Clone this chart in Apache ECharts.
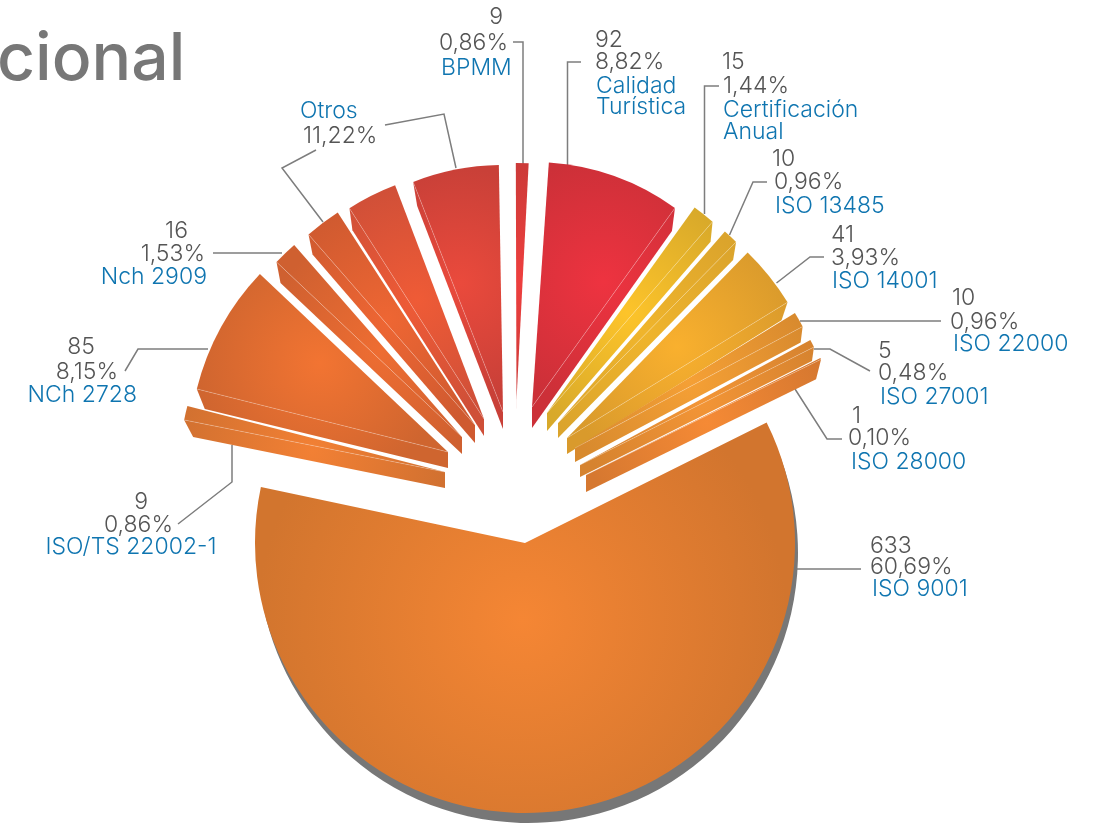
<!DOCTYPE html>
<html>
<head>
    <meta charset="UTF-8">
    <title>Certificaciones</title>
    <style type="text/css">
        html, body {
            margin: 0;
            padding: 0;
            background: #fff;
        }

        #mychart {
            width: 1097px;
            height: 825px;
        }
    </style>
    <script type="text/javascript" src="https://cdn.jsdelivr.net/npm/echarts@6/dist/echarts.min.js"></script>
</head>
<body>
<div id="mychart"></div>
<script type="text/javascript">
    // slices, clockwise starting at ISO 9001. "Otros" is drawn as three wedges
    var sliceNames = ['ISO 9001', 'ISO/TS 22002-1', 'NCh 2728', 'Nch 2909', 'Otros', 'Otros', 'Otros', 'BPMM',
        'Calidad Turística', 'Certificación Anual', 'ISO 13485', 'ISO 14001', 'ISO 22000', 'ISO 27001', 'ISO 28000'];
    var sliceValues = [633, 9, 85, 16, 24, 34, 59, 9, 92, 15, 10, 41, 10, 5, 1];

    // printed labels
    var labelCounts = ['633', '9', '85', '16', '', '9', '92', '15', '10', '41', '10', '5', '1'];
    var labelPercents = ['60,69%', '0,86%', '8,15%', '1,53%', '11,22%', '0,86%', '8,82%', '1,44%', '0,96%', '3,93%', '0,96%', '0,48%', '0,10%'];
    var labelNames = ['ISO 9001', 'ISO/TS 22002-1', 'NCh 2728', 'Nch 2909', 'Otros', 'BPMM',
        'Calidad\nTurística', 'Certificación\nAnual', 'ISO 13485', 'ISO 14001', 'ISO 22000', 'ISO 27001', 'ISO 28000'];
    var titleText = 'cional';

    // layout of each wedge: apex x, apex y, radius, apex drop, corner drop x, corner drop y, angle nudge
    var wedgeLayout = [
        [525, 543, 270, 0, 0, 0, 0.5],
        [445, 472, 266, 16, 9, 17, -0.2],
        [448, 452, 259, 16, 8, 20, -0.5],
        [462, 437, 255, 17, 4, 21, -0.6],
        [475, 425, 253, 18, 4, 20, -0.6],
        [484, 419, 250, 17, 3, 22, -0.3],
        [503, 412, 247, 17, 4, 24, -0.8],
        [516.5, 400, 237, 17, 0, 0, 0],
        [532, 407, 245, 21, -3, 23, 1],
        [547, 413, 253, 18, -2, 20, 1],
        [558, 423, 254, 15, -3, 18, 1.2],
        [567, 438, 259, 16, -6, 18, 0.9],
        [575, 448, 258, 14, -2, 16, 1],
        [580, 465, 262, 12, -2, 14, 0.6],
        [586, 475, 262, 17, -5, 20, 0.8]
    ];
    // gradient of each wedge: centre x, centre y, radius, inner colour, outer colour
    var wedgeShade = [
        [522, 620, 265, '#f58634', '#d2752e'],
        [312, 450, 140, '#f28034', '#d07030'],
        [320, 363, 125, '#f27432', '#cf652f'],
        [380, 350, 120, '#ee6d32', '#cf6030'],
        [387, 320, 120, '#ee6633', '#cf5a30'],
        [417, 300, 120, '#ef5b36', '#cf4f38'],
        [460, 283, 115, '#ea4a3c', '#c94038'],
        [523, 280, 115, '#ee3f3e', '#cc3a38'],
        [603, 282, 125, '#ee3340', '#cc3038'],
        [627, 313, 125, '#fdc42a', '#d8a92a'],
        [640, 330, 125, '#f0b52c', '#dba42c'],
        [677, 347, 125, '#f9b02e', '#d99a2c'],
        [690, 380, 125, '#f5a035', '#d88a2e'],
        [700, 400, 125, '#f39536', '#d6832f'],
        [707, 423, 125, '#f58a35', '#d67830']
    ];
    // text anchors, one [x, y, align] per printed line: count, percent, name, (second name line)
    var labelAnchors = [
        [[870, 546, 'left'], [870, 567, 'left'], [872, 589, 'left']],
        [[148, 502, 'right'], [173, 525, 'right'], [131, 547, 'center']],
        [[95, 347, 'right'], [118, 372, 'right'], [137, 395, 'right']],
        [[188, 231, 'right'], [205, 254, 'right'], [207, 277, 'right']],
        [null, [303, 136, 'left'], [300, 111, 'left']],
        [[503, 17, 'right'], [508, 43, 'right'], [441, 68, 'left']],
        [[595, 40, 'left'], [595, 62, 'left'], [596, 86, 'left'], [596, 107, 'left']],
        [[722, 62, 'left'], [723, 86, 'left'], [723, 110, 'left'], [723, 132, 'left']],
        [[772, 159, 'left'], [774, 182, 'left'], [775, 206, 'left']],
        [[831, 235, 'left'], [831, 258, 'left'], [832, 281, 'left']],
        [[952, 298, 'left'], [950, 322, 'left'], [953, 344, 'left']],
        [[878, 351, 'left'], [878, 373, 'left'], [880, 397, 'left']],
        [[852, 416, 'left'], [848, 438, 'left'], [851, 462, 'left']]
    ];
    var leaderLines = [
        [[797, 569], [861, 569]],
        [[232, 445], [232, 482], [178, 524]],
        [[208, 349], [138, 349], [125, 371]],
        [[213, 253], [282, 253]],
        [[385, 125], [444, 114], [456, 168]],
        [[316, 150], [282, 168], [323, 222]],
        [[513, 42], [523, 42], [523, 164]],
        [[581, 62], [567.5, 62], [567.5, 167]],
        [[719, 86], [704.5, 86], [704.5, 214]],
        [[767, 182], [753, 182], [729.5, 235]],
        [[824, 257], [810, 257], [776.5, 283]],
        [[800, 321], [941, 321]],
        [[814, 349], [830, 349], [870, 371]],
        [[795, 389], [827, 439], [842, 439]]
    ];

    var firstAngle = 63; // clockwise from north, where ISO 9001 starts
    var total = 0;
    sliceValues.forEach(function (v) { total += v; });

    // start and end angle of each wedge, clockwise from north
    var wedgeAngles = [];
    var cursor = firstAngle;
    sliceValues.forEach(function (v, i) {
        var next = cursor + v / total * 360;
        var nudge = wedgeLayout[i][6];
        wedgeAngles.push([cursor + nudge, next + nudge]);
        cursor = next;
    });

    function shadeOf(i) {
        var s = wedgeShade[i];
        return new echarts.graphic.RadialGradient(s[0], s[1], s[2], [
            {offset: 0, color: s[3]},
            {offset: 1, color: s[4]}
        ], true);
    }

    // the corner on the lower radial edge: end angle on the right half, start angle on the left
    function lowerCorner(i) {
        var g = wedgeLayout[i];
        var a = (i >= 8 ? wedgeAngles[i][1] : wedgeAngles[i][0]) * Math.PI / 180;
        return [g[0] + g[2] * Math.sin(a), g[1] - g[2] * Math.cos(a)];
    }

    var wedgeRows = sliceValues.map(function (v, i) { return [i, v]; });

    var series = [{
        type: 'custom',
        name: 'sides',
        coordinateSystem: 'none',
        z: 1,
        silent: true,
        data: wedgeRows,
        renderItem: function (params, api) {
            var i = api.value(0);
            var g = wedgeLayout[i];
            if (i === 0 || (g[4] === 0 && g[5] === 0 && g[3] === 0)) return;
            var c = lowerCorner(i);
            return {
                type: 'polygon',
                shape: {points: [[g[0], g[1]], c, [c[0] + g[4], c[1] + g[5]], [g[0], g[1] + g[3]]]},
                style: {fill: shadeOf(i)}
            };
        }
    }, {
        type: 'custom',
        name: 'edges',
        coordinateSystem: 'none',
        z: 3,
        silent: true,
        data: wedgeRows,
        renderItem: function (params, api) {
            var i = api.value(0);
            if (i === 0 || i === 7) return;
            var g = wedgeLayout[i];
            var c = lowerCorner(i);
            return {
                type: 'line',
                shape: {x1: g[0], y1: g[1], x2: c[0], y2: c[1]},
                style: {stroke: 'rgba(255,255,255,0.22)', lineWidth: 1}
            };
        }
    }];

    // one pie per wedge, because every wedge has its own centre
    sliceValues.forEach(function (v, i) {
        var g = wedgeLayout[i];
        var style = {color: shadeOf(i)};
        if (i === 0) {
            style.shadowColor = '#777';
            style.shadowBlur = 0;
            style.shadowOffsetX = 3;
            style.shadowOffsetY = 10;
        }
        series.push({
            type: 'pie',
            name: sliceNames[i],
            center: [g[0], g[1]],
            radius: [0, g[2]],
            startAngle: 90 - wedgeAngles[i][0],
            clockwise: true,
            z: 2,
            silent: true,
            label: {show: false},
            labelLine: {show: false},
            data: [
                {value: v, name: sliceNames[i], itemStyle: style},
                {value: total - v, name: '', itemStyle: {color: 'transparent'}}
            ]
        });
    });

    var graphics = [];
    leaderLines.forEach(function (pts) {
        graphics.push({
            type: 'polyline',
            z: 0,
            shape: {points: pts},
            style: {stroke: '#7d7d7d', lineWidth: 1.5, fill: null}
        });
    });

    function addText(text, anchor, color) {
        graphics.push({
            type: 'text',
            x: anchor[0],
            y: anchor[1],
            style: {
                text: text,
                fill: color,
                font: '300 23px Inter',
                textAlign: anchor[2],
                textVerticalAlign: 'middle'
            }
        });
    }

    labelNames.forEach(function (name, i) {
        var a = labelAnchors[i];
        if (labelCounts[i]) addText(labelCounts[i], a[0], '#555555');
        addText(labelPercents[i], a[1], '#555555');
        name.split('\n').forEach(function (part, k) {
            addText(part, a[2 + k], '#0f75b0');
        });
    });

    var myChart = echarts.init(document.getElementById('mychart'));
    myChart.setOption({
        animation: false,
        title: {
            text: titleText,
            left: -8,
            top: 22,
            textStyle: {color: '#777777', fontFamily: 'Inter', fontWeight: 500, fontSize: 66}
        },
        graphic: graphics,
        series: series
    });
</script>
</body>
</html>
